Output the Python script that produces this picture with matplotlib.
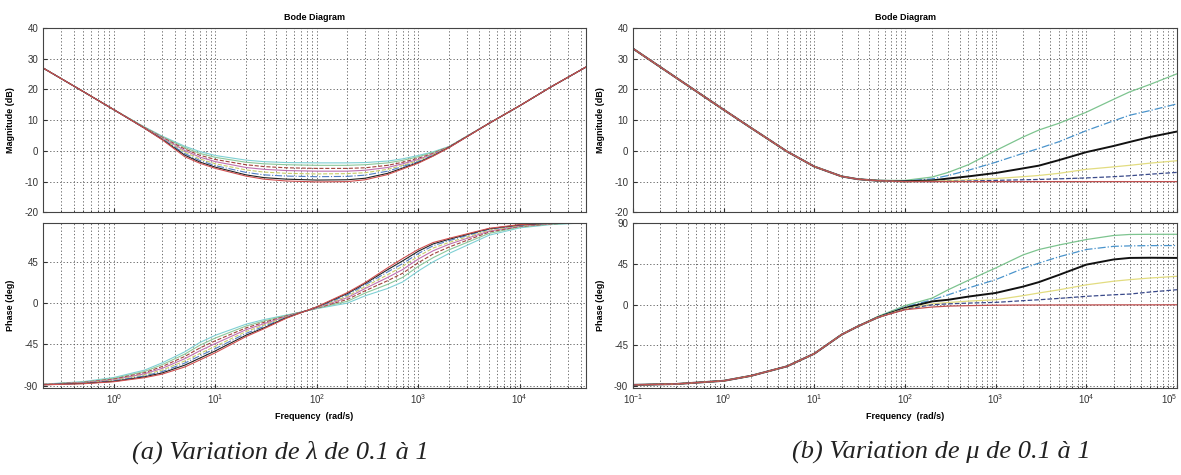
import matplotlib
matplotlib.use("Agg")
import matplotlib.pyplot as plt

# ---- (a) variation of lambda ----
wL = [0.2, 0.5, 1, 2, 3, 5, 7, 10, 20, 30, 50, 100, 200, 300, 500, 700,
      1000, 1400, 2000, 5000, 1e4, 2e4, 4.5e4]

magL = [
    [27, 19.3, 13.4, 7.8, 4.8, 1.5, -0.2, -1.5, -3.0, -3.5, -3.8, -3.9, -3.9, -3.8, -3.3, -2.6, -1.5, -0.3, 1.4, 9, 14.7, 20.7, 27.3],
    [27, 19.3, 13.4, 7.7, 4.6, 1.1, -0.8, -2.1, -3.7, -4.2, -4.5, -4.7, -4.7, -4.5, -3.9, -3.1, -1.9, -0.5, 1.3, 9, 14.7, 20.7, 27.3],
    [27, 19.3, 13.4, 7.6, 4.4, 0.6, -1.4, -2.8, -4.5, -5.1, -5.5, -5.7, -5.7, -5.5, -4.7, -3.7, -2.4, -0.8, 1.3, 9, 14.7, 20.7, 27.3],
    [27, 19.3, 13.4, 7.5, 4.2, 0.1, -2.0, -3.5, -5.4, -6.0, -6.4, -6.6, -6.6, -6.3, -5.4, -4.2, -2.8, -1.0, 1.2, 9, 14.7, 20.7, 27.3],
    [27, 19.3, 13.4, 7.5, 4.0, -0.4, -2.6, -4.2, -6.2, -6.9, -7.3, -7.5, -7.4, -7.1, -6.0, -4.7, -3.2, -1.2, 1.2, 9, 14.7, 20.7, 27.3],
    [27, 19.3, 13.4, 7.4, 3.9, -0.9, -3.1, -4.8, -7.0, -7.8, -8.2, -8.4, -8.3, -7.9, -6.6, -5.1, -3.5, -1.4, 1.1, 9, 14.7, 20.7, 27.3],
    [27, 19.3, 13.4, 7.4, 3.7, -1.4, -3.6, -5.3, -7.8, -8.7, -9.2, -9.5, -9.4, -8.9, -7.3, -5.6, -3.8, -1.6, 1.1, 9, 14.7, 20.7, 27.3],
    [27, 19.3, 13.4, 7.4, 3.6, -1.9, -4.0, -5.7, -8.2, -9.2, -9.8, -10.1, -10.0, -9.4, -7.7, -5.9, -4.0, -1.7, 1.0, 9, 14.7, 20.7, 27.3],
]

phaseL = [
    [-88.3, -85.5, -81.0, -73.0, -65.0, -53.0, -43.0, -35.0, -23.0, -18.0, -13.0, -6.0, 0.0, 8.0, 16.0, 23.0, 35.0, 45.0, 54.0, 74.0, 82.0, 85.5, 87.5],
    [-88.4, -86.0, -82.0, -74.5, -67.0, -55.5, -46.0, -38.0, -25.0, -19.5, -13.5, -5.7, 2.0, 11.0, 20.5, 28.0, 40.0, 49.5, 58.0, 76.0, 83.0, 86.0, 87.7],
    [-88.5, -86.3, -82.7, -75.8, -69.0, -58.0, -49.0, -41.0, -27.0, -21.0, -14.0, -5.4, 4.0, 13.5, 24.5, 32.5, 44.0, 53.5, 61.0, 77.5, 83.5, 86.3, 87.9],
    [-88.6, -86.6, -83.4, -77.0, -71.0, -60.5, -52.0, -44.0, -29.0, -22.5, -14.5, -5.1, 6.0, 16.0, 28.0, 36.5, 48.0, 57.0, 64.0, 78.5, 84.0, 86.6, 88.0],
    [-88.7, -86.9, -84.0, -78.2, -72.8, -63.0, -55.0, -47.0, -31.0, -24.0, -15.0, -4.8, 7.5, 18.0, 31.0, 40.0, 51.0, 60.0, 66.0, 79.5, 84.5, 86.8, 88.1],
    [-88.8, -87.2, -84.6, -79.3, -74.5, -65.3, -57.5, -49.5, -33.0, -25.5, -15.5, -4.5, 9.0, 20.0, 34.0, 43.0, 54.0, 62.5, 68.0, 80.5, 85.0, 87.0, 88.2],
    [-88.9, -87.5, -85.2, -80.3, -76.0, -67.5, -60.0, -52.0, -35.0, -27.0, -16.0, -4.2, 10.5, 21.5, 36.5, 46.0, 56.5, 64.5, 69.5, 81.0, 85.2, 87.2, 88.3],
    [-89.0, -87.8, -85.6, -81.2, -77.3, -69.5, -62.0, -54.0, -36.5, -28.0, -16.5, -4.0, 11.5, 22.5, 38.5, 48.5, 58.5, 66.0, 70.5, 81.5, 85.5, 87.3, 88.4],
]

colorsL = ["#7fd0d4", "#8cc79a", "#a0443c", "#c070b0", "#c8cc6a", "#4f7fc4", "#222222", "#d05050"]
stylesL = ["-", "-", "--", "-", "--", "-.", "-", "-"]

# ---- (b) variation of mu ----
wR = [0.1, 0.3, 1, 2, 5, 10, 20, 30, 50, 100, 200, 300, 500, 1000, 2000,
      3000, 5000, 1e4, 2e4, 3e4, 5e4, 1e5]

magR = [
    [33.3, 23.8, 13.4, 7.5, -0.2, -5.1, -8.3, -9.2, -9.6, -9.6, -8.5, -7.0, -4.5, 0.1, 4.5, 6.8, 9.0, 12.6, 16.8, 19.2, 21.6, 25.1],
    [33.3, 23.8, 13.4, 7.5, -0.2, -5.1, -8.3, -9.2, -9.7, -9.8, -9.1, -8.0, -6.3, -3.7, -0.8, 0.8, 3.0, 6.6, 9.8, 11.6, 13.1, 15.3],
    [33.3, 23.8, 13.4, 7.5, -0.2, -5.1, -8.3, -9.2, -9.7, -9.9, -9.6, -9.0, -8.3, -7.2, -5.7, -4.8, -3.0, -0.4, 1.6, 2.9, 4.5, 6.3],
    [33.3, 23.8, 13.4, 7.5, -0.2, -5.1, -8.3, -9.2, -9.7, -10.0, -9.9, -9.7, -9.4, -9.0, -8.4, -8.0, -7.3, -6.0, -5.2, -4.7, -4.0, -3.2],
    [33.3, 23.8, 13.4, 7.5, -0.2, -5.1, -8.3, -9.2, -9.7, -10.0, -10.0, -9.9, -9.8, -9.6, -9.4, -9.3, -9.1, -8.8, -8.4, -8.1, -7.6, -7.0],
    [33.3, 23.8, 13.4, 7.5, -0.2, -5.1, -8.3, -9.2, -9.7, -10.0, -10.0, -10.0, -10.0, -10.0, -10.0, -10.0, -10.0, -10.0, -10.0, -10.0, -10.0, -10.0],
]

phaseR = [
    [-88.5, -87.5, -84.0, -78.5, -68.0, -54.0, -33.0, -24.0, -13.0, -1.0, 7.4, 16.6, 27.0, 40.6, 55.0, 61.0, 66.0, 72.0, 76.5, 77.6, 77.8, 77.8],
    [-88.5, -87.5, -84.0, -78.5, -68.0, -54.0, -33.0, -24.0, -13.5, -2.5, 5.5, 11.0, 18.5, 27.7, 40.0, 46.0, 53.0, 61.0, 64.5, 65.0, 65.3, 65.4],
    [-88.5, -87.5, -84.0, -78.5, -68.0, -54.0, -33.0, -24.0, -14.0, -3.5, 3.7, 5.5, 9.0, 13.0, 20.0, 25.0, 33.0, 44.3, 50.0, 51.7, 51.9, 51.7],
    [-88.5, -87.5, -84.0, -78.5, -68.0, -54.0, -33.0, -24.0, -14.0, -4.5, 1.0, 2.5, 4.0, 5.5, 10.0, 13.0, 16.5, 22.0, 26.0, 27.7, 29.5, 31.4],
    [-88.5, -87.5, -84.0, -78.5, -68.0, -54.0, -33.0, -24.0, -14.0, -5.0, 0.0, 1.0, 1.8, 2.6, 4.5, 5.5, 7.0, 9.3, 11.0, 11.8, 14.0, 16.6],
    [-88.5, -87.5, -84.0, -78.5, -68.0, -54.0, -33.0, -24.0, -14.0, -5.5, -2.5, -1.5, -1.0, -0.5, -0.3, -0.3, -0.2, -0.2, -0.1, -0.1, -0.1, 0.0],
]

colorsR = ["#7dc48f", "#4a94cc", "#111111", "#e2dc80", "#3a4a8a", "#c05050"]
stylesR = ["-", "-.", "-", "-", "--", "-"]
widthsR = [0.9, 0.9, 1.4, 0.9, 0.9, 0.9]

caption_a = "(a) Variation de \u03bb de 0.1 \u00e0 1"
caption_b = "(b) Variation de \u03bc de 0.1 \u00e0 1"

plt.rcParams["font.family"] = ["Liberation Sans", "DejaVu Sans"]
plt.rcParams["axes.unicode_minus"] = False

fig = plt.figure(figsize=(11.81, 4.75), dpi=100)

def style_axes(ax):
    ax.set_xscale("log")
    ax.grid(True, which="both", linestyle=(0, (1.5, 2.5)), color="#555555", linewidth=0.6)
    ax.tick_params(which="both", direction="in", labelsize=7, colors="#333333", length=3)
    ax.tick_params(which="minor", length=1.5)
    for s in ax.spines.values():
        s.set_color("#444444")
        s.set_linewidth(0.8)

def make_panel(left, width, w, mags, phases, colors, styles, widths, xlim, phase_ylim, phase_ticks):
    ax_m = fig.add_axes([left, 0.553, width, 0.388])
    ax_p = fig.add_axes([left, 0.184, width, 0.346])
    for m, p, c, ls, lw in zip(mags, phases, colors, styles, widths):
        ax_m.plot(w, m, color=c, linestyle=ls, linewidth=lw)
        ax_p.plot(w, p, color=c, linestyle=ls, linewidth=lw)
    for ax in (ax_m, ax_p):
        style_axes(ax)
        ax.set_xlim(*xlim)
    ax_m.set_ylim(-20, 40)
    ax_m.set_yticks([-20, -10, 0, 10, 20, 30, 40])
    ax_m.tick_params(labelbottom=False)
    ax_p.set_ylim(*phase_ylim)
    ax_p.set_yticks(phase_ticks)
    ax_m.set_title("Bode Diagram", fontsize=6.5, fontweight="bold", pad=6)
    ax_m.set_ylabel("Magnitude (dB)", fontsize=6.5, fontweight="bold")
    ax_p.set_ylabel("Phase (deg)", fontsize=6.5, fontweight="bold")
    ax_p.set_xlabel("Frequency  (rad/s)", fontsize=6.5, fontweight="bold")
    ax_m.yaxis.set_label_coords(-0.052, 0.5)
    ax_p.yaxis.set_label_coords(-0.052, 0.5)
    ax_p.xaxis.set_label_coords(0.5, -0.15)
    return ax_m, ax_p

make_panel(0.0364, 0.4598, wL, magL, phaseL, colorsL, stylesL, [0.8] * 8,
           (0.2, 4.5e4), (-92, 87), [-90, -45, 0, 45])
ax_m, ax_p = make_panel(0.536, 0.4606, wR, magR, phaseR, colorsR, stylesR, widthsR,
                        (0.1, 1e5), (-91.5, 90), [-90, -45, 0, 45, 90])

# keep the last decade label (10^5) inside the figure
ax_p.set_xticks([1e-1, 1e0, 1e1, 1e2, 1e3, 1e4, 1e5])
ticks = ax_p.xaxis.get_major_ticks()
ticks[-1].label1.set_horizontalalignment("right")

fig.text(280 / 1181, 0.048, caption_a, ha="center", va="center", fontsize=19,
         style="italic", family=["Liberation Serif", "DejaVu Serif"], color="#222222")
fig.text(941 / 1181, 0.048, caption_b, ha="center", va="center", fontsize=19,
         style="italic", family=["Liberation Serif", "DejaVu Serif"], color="#222222")

fig.savefig("out.png", dpi=100)
